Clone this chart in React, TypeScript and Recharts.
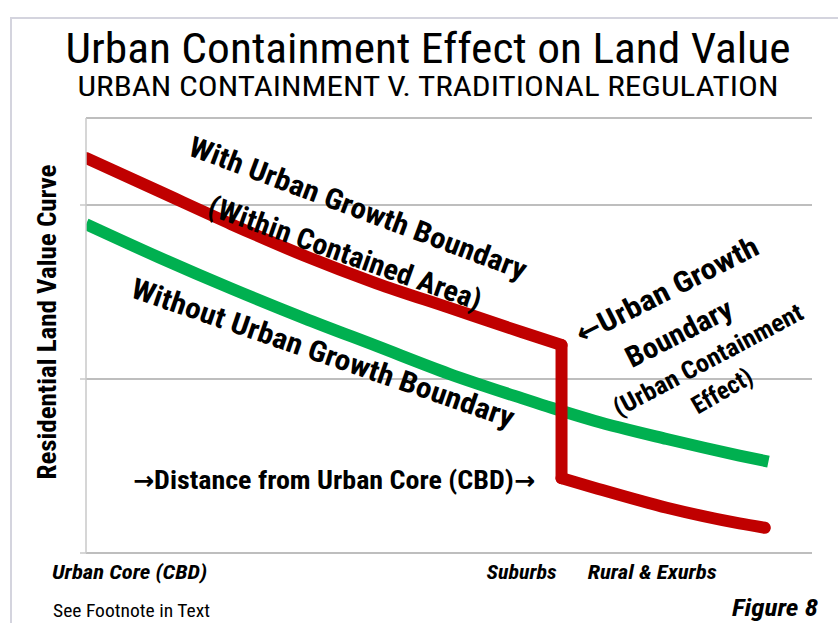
import { LineChart, Line, XAxis, YAxis, CartesianGrid } from 'recharts'

// distance from the core (0-100) and land value index
const withUgbDistance = [0, 10, 20, 30, 40, 50, 60, 65.5, 65.5, 70, 80, 90, 93.5]
const withUgbValue = [2.27, 2.08, 1.89, 1.71, 1.55, 1.41, 1.27, 1.195, 0.43, 0.375, 0.26, 0.17, 0.145]

const withoutUgbDistance = [0, 10, 20, 30, 40, 50, 60, 66, 70, 80, 90, 94]
const withoutUgbValue = [1.89, 1.7, 1.52, 1.35, 1.19, 1.03, 0.89, 0.81, 0.76, 0.655, 0.56, 0.525]

const zoneTicks = [6, 60, 78]
const zoneLabels = ['Urban Core (CBD)', 'Suburbs', 'Rural & Exurbs']
const valueTicks = [0, 1, 2]

const withUgb = withUgbDistance.map((d, i) => ({ d, v: withUgbValue[i] }))
const withoutUgb = withoutUgbDistance.map((d, i) => ({ d, v: withoutUgbValue[i] }))
// the contained curve is drawn in three pieces so the drop at the boundary stays a straight wall
const inside = withUgb.slice(0, 8)
const wall = withUgb.slice(7, 9)
const outside = withUgb.slice(8)

const narrow = "'Liberation Sans Narrow', 'Arial Narrow', 'Roboto Condensed', 'DejaVu Sans Condensed', sans-serif"
const zoneWidths: Record<string, number> = { 'Urban Core (CBD)': 155, Suburbs: 70, 'Rural & Exurbs': 129 }

const ZoneTick = (props: any) => {
  const label = zoneLabels[zoneTicks.indexOf(props.payload.value)]
  return (
    <text
      x={props.x}
      y={props.y}
      dy="0.71em"
      textAnchor="middle"
      fill="#000"
      fontFamily={narrow}
      fontSize={20}
      fontWeight="bold"
      fontStyle="italic"
      textLength={zoneWidths[label]}
      lengthAdjust="spacingAndGlyphs"
    >
      {label}
    </text>
  )
}

const redLine = {
  dataKey: 'v',
  stroke: '#c00000',
  strokeWidth: 12,
  strokeLinecap: 'round' as const,
  strokeLinejoin: 'round' as const,
  dot: false,
  activeDot: false,
  isAnimationActive: false,
}

export default function App() {
  return (
    <div style={{ position: 'absolute', left: 0, top: 0, width: 838, height: 623, background: '#fff', overflow: 'hidden' }}>
      <div style={{ position: 'absolute', left: 10, top: 17, width: 828, height: 606, borderTop: '2px solid #d4d4de', borderLeft: '2px solid #d4d4de' }} />
      <div style={{ position: 'absolute', left: 0, top: 0 }}>
        <LineChart width={838} height={623} margin={{ top: 118, right: 26, left: 76, bottom: 40 }}>
          <CartesianGrid vertical={false} stroke="#a8a8a8" strokeWidth={1.5} />
          <XAxis
            type="number"
            dataKey="d"
            domain={[0, 100]}
            allowDataOverflow
            ticks={zoneTicks}
            axisLine={false}
            tickLine={false}
            height={30}
            tickMargin={6}
            tick={ZoneTick}
          />
          <YAxis
            type="number"
            domain={[0, 2.5]}
            ticks={valueTicks}
            width={10}
            stroke="#c8c8c8"
            strokeWidth={1.5}
            tickSize={6}
            tickFormatter={() => ''}
          />
          <Line
            data={withoutUgb}
            dataKey="v"
            type="monotone"
            stroke="#00b050"
            strokeWidth={12}
            strokeLinecap="butt"
            dot={false}
            activeDot={false}
            isAnimationActive={false}
          />
          <Line data={inside} type="monotone" {...redLine} />
          <Line data={wall} type="linear" {...redLine} />
          <Line data={outside} type="monotone" {...redLine} />
        </LineChart>
      </div>
      <svg width={838} height={623} style={{ position: 'absolute', left: 0, top: 0, pointerEvents: 'none' }} fontFamily={narrow}>
        <text x={428} y={63} textAnchor="middle" fontSize={42} textLength={725} lengthAdjust="spacingAndGlyphs">
          Urban Containment Effect on Land Value
        </text>
        <text x={428} y={96} textAnchor="middle" fontSize={28} textLength={701} lengthAdjust="spacingAndGlyphs">
          URBAN CONTAINMENT V. TRADITIONAL REGULATION
        </text>
        <text x={47} y={322} transform="rotate(-90 47 322)" textAnchor="middle" dominantBaseline="central" fontSize={26} fontWeight="bold" textLength={315} lengthAdjust="spacingAndGlyphs">
          Residential Land Value Curve
        </text>

        <g fontWeight="bold" fontSize={29} textAnchor="middle" dominantBaseline="central">
          <text x={358} y={208} transform="rotate(20.5 358 208)" textLength={358} lengthAdjust="spacingAndGlyphs">With Urban Growth Boundary</text>
          <text x={345} y={253} transform="rotate(19.5 345 253)" textLength={288} lengthAdjust="spacingAndGlyphs">(Within Contained Area)</text>
          <text x={323} y={353} transform="rotate(19 323 353)" textLength={403} lengthAdjust="spacingAndGlyphs">Without Urban Growth Boundary</text>
          <text x={667} y={290} transform="rotate(-27 667 290)" textLength={201} lengthAdjust="spacingAndGlyphs">←Urban Growth</text>
          <text x={679} y={333} transform="rotate(-27 679 333)" textLength={116} lengthAdjust="spacingAndGlyphs">Boundary</text>
          <text x={708} y={360} transform="rotate(-28 708 360)" fontSize={25} textLength={211} lengthAdjust="spacingAndGlyphs">(Urban Containment</text>
          <text x={722} y={391} transform="rotate(-30 722 391)" fontSize={25} textLength={66} lengthAdjust="spacingAndGlyphs">Effect)</text>
        </g>

        <text x={334} y={480} textAnchor="middle" dominantBaseline="central" fontSize={25} fontWeight="bold" textLength={402} lengthAdjust="spacingAndGlyphs">
          →Distance from Urban Core (CBD)→
        </text>

        <text x={53} y={617} fontSize={18} textLength={157} lengthAdjust="spacingAndGlyphs">See Footnote in Text</text>
        <text x={818} y={616} textAnchor="end" fontSize={24} fontWeight="bold" fontStyle="italic" textLength={86} lengthAdjust="spacingAndGlyphs">Figure 8</text>
      </svg>
    </div>
  )
}
